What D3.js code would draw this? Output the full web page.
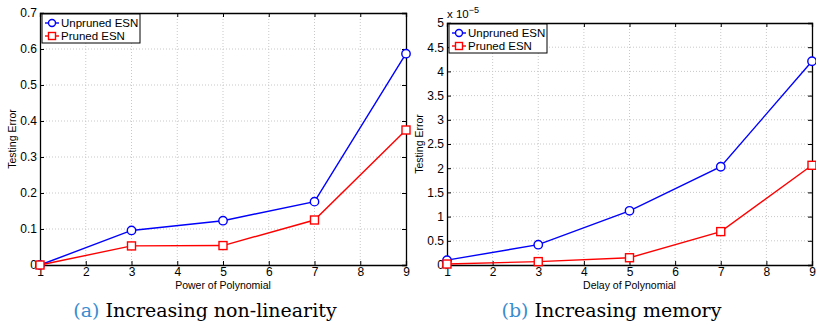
<!DOCTYPE html>
<html>
<head>
<meta charset="utf-8">
<script src="https://cdn.jsdelivr.net/npm/d3@7"></script>
<style>
body{margin:0;background:#fff;}
svg text{font-family:"Liberation Sans",Arial,sans-serif;}
.grid line{stroke:#c8c8c8;stroke-dasharray:1,2;}
.caption{font-family:"DejaVu Serif","Liberation Serif",serif !important;}
</style>
</head>
<body>
<div id="chart"></div>
<script>
// x positions (shared)
const xVals = [1, 3, 5, 7, 9];

// (a) power of polynomial
const unprunedA = [0, 0.096, 0.123, 0.176, 0.587];
const prunedA   = [0, 0.053, 0.054, 0.125, 0.375];
const yTicksA = [0, 0.1, 0.2, 0.3, 0.4, 0.5, 0.6, 0.7];

// (b) delay of polynomial, in units of 1e-5
const unprunedB = [0.10, 0.42, 1.12, 2.03, 4.21];
const prunedB   = [0.02, 0.07, 0.15, 0.69, 2.06];
const yTicksB = [0, 0.5, 1, 1.5, 2, 2.5, 3, 3.5, 4, 4.5, 5];

const xTicks = [1, 2, 3, 4, 5, 6, 7, 8, 9];
const seriesNames = ['Unpruned ESN', 'Pruned ESN'];
const colors = ['#0000ff', '#ff0000'];

const W = 816, H = 324;
const svg = d3.select('#chart').append('svg')
	.attr('width', W)
	.attr('height', H);

function drawPanel(opt){
	const {l, r, t, b} = opt;
	const x = d3.scaleLinear().domain([1, 9]).range([l, r]);
	const y = d3.scaleLinear().domain([0, opt.yMax]).range([b, t]);
	const g = svg.append('g');

	//grid
	const grid = g.append('g').attr('class','grid');
	grid.selectAll('.gx').data(xTicks.slice(1, -1)).enter()
		.append('line')
		.attr('x1', d => x(d)).attr('x2', d => x(d))
		.attr('y1', t).attr('y2', b);
	grid.selectAll('.gy').data(opt.yTicks.slice(1, -1)).enter()
		.append('line')
		.attr('x1', l).attr('x2', r)
		.attr('y1', d => y(d)).attr('y2', d => y(d));

	//axes, ticks inward
	const ax = g.append('g');
	ax.append('g').attr('transform', `translate(0,${b})`)
		.call(d3.axisBottom(x).tickValues(xTicks).tickSize(-4).tickPadding(2).tickFormat(d3.format('d')));
	ax.append('g').attr('transform', `translate(0,${t})`)
		.call(d3.axisTop(x).tickValues(xTicks).tickSize(-4).tickFormat(''));
	ax.append('g').attr('transform', `translate(${l},0)`)
		.call(d3.axisLeft(y).tickValues(opt.yTicks).tickSize(-4).tickPadding(3).tickFormat(d => d3.format('')(d)));
	ax.append('g').attr('transform', `translate(${r},0)`)
		.call(d3.axisRight(y).tickValues(opt.yTicks).tickSize(-4).tickFormat(''));
	ax.selectAll('.domain').attr('stroke', '#000').attr('stroke-width', 1.3);
	ax.selectAll('.tick line').attr('stroke', '#000');
	ax.selectAll('text').attr('font-size', 12).attr('fill', '#000')
		.attr('font-family', '"Liberation Sans",Arial,sans-serif');

	//lines + markers
	const line = d3.line().x((d, i) => x(xVals[i])).y(d => y(d));
	opt.series.forEach((s, k) => {
		g.append('path').datum(s)
			.attr('d', line)
			.attr('fill', 'none')
			.attr('stroke', colors[k])
			.attr('stroke-width', 1.4);
		const pts = g.selectAll('.m' + k).data(s).enter();
		if(k === 0){
			pts.append('circle')
				.attr('cx', (d, i) => x(xVals[i]))
				.attr('cy', d => y(d))
				.attr('r', 4.2)
				.attr('fill', '#fff')
				.attr('stroke', colors[k])
				.attr('stroke-width', 1.4);
		} else {
			pts.append('rect')
				.attr('x', (d, i) => x(xVals[i]) - 4)
				.attr('y', d => y(d) - 4)
				.attr('width', 8).attr('height', 8)
				.attr('fill', '#fff')
				.attr('stroke', colors[k])
				.attr('stroke-width', 1.4);
		}
	});

	//legend
	const lg = g.append('g').attr('transform', `translate(${l + 2},${t + 1})`);
	lg.append('rect').attr('width', 98).attr('height', 29)
		.attr('fill', '#fff').attr('stroke', '#000').attr('stroke-width', 1);
	seriesNames.forEach((name, k) => {
		const yy = 9 + k * 13;
		lg.append('line').attr('x1', 3).attr('x2', 17).attr('y1', yy).attr('y2', yy)
			.attr('stroke', colors[k]).attr('stroke-width', 1.4);
		if(k === 0){
			lg.append('circle').attr('cx', 10).attr('cy', yy).attr('r', 3.5)
				.attr('fill', '#fff').attr('stroke', colors[k]).attr('stroke-width', 1.4);
		} else {
			lg.append('rect').attr('x', 6.5).attr('y', yy - 3.5).attr('width', 7).attr('height', 7)
				.attr('fill', '#fff').attr('stroke', colors[k]).attr('stroke-width', 1.4);
		}
		lg.append('text').attr('x', 19).attr('y', yy + 4)
			.attr('font-size', 11.5).text(name);
	});

	//axis titles
	g.append('text')
		.attr('x', (l + r) / 2).attr('y', b + 24)
		.attr('text-anchor', 'middle').attr('font-size', 10.5)
		.text(opt.xTitle);
	g.append('text')
		.attr('transform', `translate(${l - 24},${(t + b) / 2}) rotate(-90)`)
		.attr('text-anchor', 'middle').attr('font-size', 10.5)
		.text('Testing Error');

	//caption
	const cap = g.append('text').attr('class', 'caption')
		.attr('x', (l + r) / 2 - 18).attr('y', b + 52)
		.attr('text-anchor', 'middle').attr('font-size', 19);
	cap.append('tspan').attr('fill', '#3a8ccf').text(opt.capLabel);
	cap.append('tspan').attr('fill', '#000').text(' ' + opt.caption);
	return g;
}

drawPanel({l: 40, r: 406, t: 13, b: 265, yMax: 0.7, yTicks: yTicksA,
	series: [unprunedA, prunedA], xTitle: 'Power of Polynomial',
	capLabel: '(a)', caption: 'Increasing non-linearity'});

const gb = drawPanel({l: 447, r: 812, t: 23, b: 265, yMax: 5, yTicks: yTicksB,
	series: [unprunedB, prunedB], xTitle: 'Delay of Polynomial',
	capLabel: '(b)', caption: 'Increasing memory'});

const expo = gb.append('text').attr('x', 447).attr('y', 18).attr('font-size', 11.5);
expo.append('tspan').text('x 10');
expo.append('tspan').attr('dy', -5).attr('font-size', 9).text('\u22125');
</script>
</body>
</html>
